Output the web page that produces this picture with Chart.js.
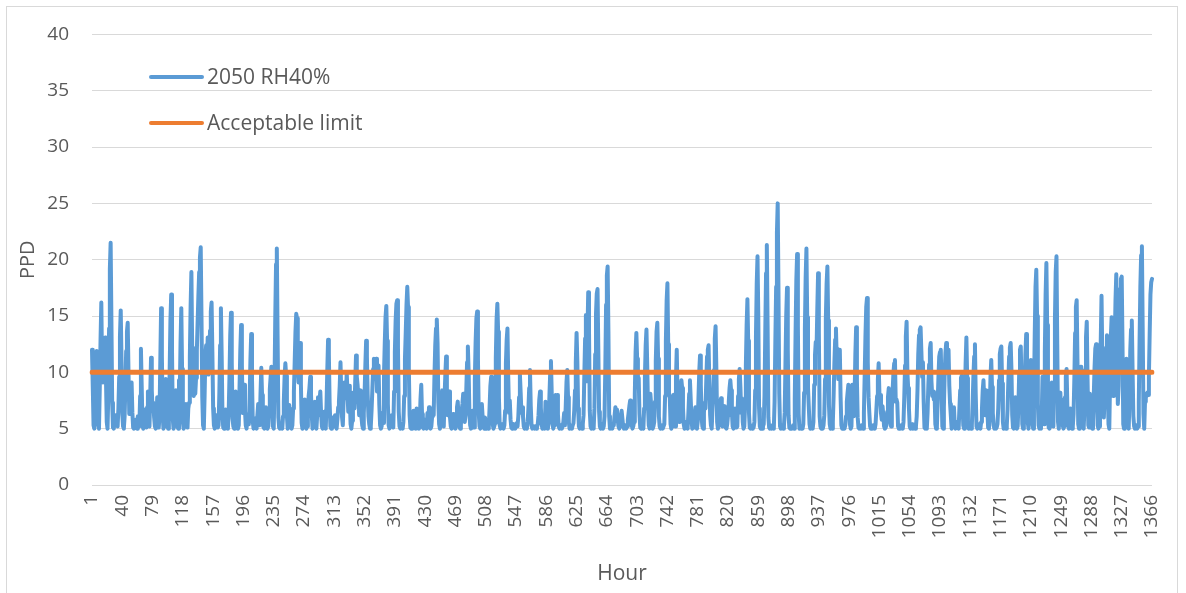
<!DOCTYPE html>
<html>
<head>
<meta charset="utf-8">
<title>PPD 2050 RH40%</title>
<script src="https://cdn.jsdelivr.net/npm/chart.js@4.4.1/dist/chart.umd.min.js"></script>
<style>
  html, body { margin: 0; padding: 0; background: #ffffff; overflow: hidden; }
  #wrap { position: relative; width: 1186px; height: 593px; }
</style>
</head>
<body>
<div id="wrap"><canvas id="chart" width="1186" height="593"></canvas></div>
<script>
// Series names and the comfort limit
const seriesName = '2050 RH40%';
const limitName = 'Acceptable limit';
const acceptableLimit = 10;

// Hour labels shown on the x axis
const tickLabels = [1, 40, 79, 118, 157, 196, 235, 274, 313, 352, 391, 430, 469, 508, 547, 586, 625, 664,
  703, 742, 781, 820, 859, 898, 937, 976, 1015, 1054, 1093, 1132, 1171, 1210, 1249, 1288, 1327, 1366];

// Hourly PPD values (%), hours 1..1366
const ppd = [
  12.0, 8.7, 5.3, 5.0, 6.9, 9.8, 11.9, 8.0, 5.4, 5.0, 8.6, 12.9, 16.2,
  10.4, 9.1, 9.8, 11.8, 13.1, 9.4, 5.6, 5.0, 8.0, 13.9, 19.2, 21.5, 14.6,
  7.3, 5.1, 5.0, 5.6, 6.2, 5.7, 5.3, 5.2, 6.8, 9.6, 13.2, 15.5, 11.1,
  6.3, 5.2, 5.0, 6.1, 8.8, 11.9, 13.6, 14.4, 10.0, 6.3, 7.4, 8.6, 9.1,
  6.4, 5.1, 5.0, 5.3, 5.8, 5.2, 5.0, 6.1, 5.5, 5.2, 7.9, 12.1, 8.8,
  5.4, 5.0, 5.2, 6.7, 5.6, 5.1, 6.9, 8.3, 6.2, 5.2, 8.0, 11.3, 8.4,
  6.6, 7.3, 6.0, 5.2, 5.0, 5.7, 7.8, 6.3, 5.1, 6.4, 11.2, 15.7, 11.4,
  6.2, 5.0, 5.2, 6.6, 9.4, 7.0, 5.3, 5.0, 6.3, 10.1, 14.6, 16.9, 12.1,
  5.9, 5.0, 5.4, 7.7, 8.4, 6.5, 5.2, 5.0, 9.3, 8.1, 12.6, 15.7, 10.3,
  5.6, 5.0, 5.2, 6.1, 7.2, 5.4, 5.1, 6.8, 7.3, 11.4, 15.9, 18.9, 12.2,
  8.6, 7.9, 8.3, 8.1, 9.5, 11.9, 14.4, 16.8, 18.9, 20.2, 21.1, 14.9, 7.8,
  5.3, 5.0, 7.9, 11.5, 12.4, 10.6, 13.1, 9.8, 10.9, 13.7, 15.4, 16.2, 11.8,
  6.8, 5.3, 5.0, 5.4, 6.2, 5.6, 5.1, 5.3, 8.2, 12.4, 15.7, 11.5, 6.2,
  5.1, 5.0, 5.6, 6.7, 5.8, 5.2, 5.0, 6.4, 9.5, 13.3, 15.3, 10.8, 5.9,
  5.2, 5.0, 5.4, 8.3, 7.1, 5.5, 5.0, 5.3, 8.7, 12.0, 14.2, 10.7, 6.4,
  8.4, 8.9, 6.6, 5.3, 5.0, 5.8, 6.3, 5.4, 7.7, 11.1, 13.4, 9.6, 5.7,
  5.0, 5.1, 5.9, 5.3, 5.0, 6.2, 7.2, 5.8, 5.3, 8.1, 10.4, 8.0, 5.4,
  5.1, 5.0, 5.7, 6.9, 5.4, 5.0, 5.2, 6.8, 8.5, 9.6, 10.5, 7.4, 5.2,
  5.0, 8.8, 14.9, 19.6, 21.0, 13.2, 6.0, 5.1, 5.0, 5.4, 5.2, 5.0, 6.1,
  7.4, 9.6, 10.8, 9.7, 6.1, 5.0, 5.2, 7.1, 6.0, 5.2, 5.0, 5.3, 6.8,
  8.3, 10.9, 13.6, 15.2, 14.8, 10.6, 9.1, 10.4, 12.6, 9.0, 5.5, 5.0, 5.4,
  6.8, 7.6, 5.4, 5.0, 5.2, 6.6, 7.9, 8.6, 9.6, 8.1, 6.2, 5.0, 5.3,
  6.0, 7.4, 5.6, 5.0, 6.2, 7.8, 6.9, 7.5, 8.3, 6.4, 5.2, 5.0, 5.6,
  6.5, 5.3, 5.0, 7.1, 10.2, 12.9, 11.6, 7.3, 5.2, 5.0, 5.3, 6.0, 5.5,
  5.2, 6.2, 5.4, 5.0, 5.8, 6.9, 7.4, 8.8, 10.9, 8.1, 6.0, 5.3, 7.6,
  9.1, 8.4, 7.7, 10.0, 8.2, 6.5, 8.8, 7.6, 5.4, 5.0, 5.7, 8.2, 7.3,
  6.8, 9.3, 11.5, 9.6, 8.9, 7.8, 6.2, 7.9, 8.4, 6.0, 5.3, 5.0, 6.4,
  8.1, 10.6, 12.8, 11.4, 8.0, 6.1, 5.4, 5.0, 5.2, 6.6, 8.4, 10.3, 11.2,
  9.4, 10.1, 11.2, 8.3, 9.2, 10.6, 7.1, 5.3, 5.0, 5.2, 6.4, 5.5, 9.8,
  12.6, 14.9, 15.9, 12.8, 7.2, 5.3, 5.0, 5.2, 5.6, 6.2, 5.4, 5.1, 8.3,
  11.8, 14.6, 16.1, 16.4, 12.2, 6.5, 5.2, 5.0, 5.4, 5.1, 5.0, 5.6, 7.9,
  11.2, 13.5, 16.0, 17.6, 15.8, 10.4, 6.2, 5.1, 5.0, 5.3, 5.0, 6.6, 5.7,
  5.2, 5.0, 6.8, 5.9, 5.2, 5.0, 5.4, 7.6, 8.9, 6.3, 5.1, 5.0, 5.3,
  5.8, 5.1, 5.0, 6.4, 5.6, 6.9, 5.3, 5.0, 5.2, 6.1, 6.8, 6.2, 9.7,
  12.4, 13.9, 14.7, 12.6, 7.3, 5.4, 5.0, 5.6, 6.4, 8.4, 6.1, 5.2, 7.8,
  9.8, 11.4, 8.3, 6.2, 7.7, 8.3, 6.0, 5.2, 5.0, 5.5, 6.3, 5.3, 5.1,
  5.0, 5.6, 6.9, 7.4, 6.0, 5.2, 5.0, 5.3, 6.6, 7.2, 8.1, 6.8, 5.6,
  6.2, 8.5, 10.9, 12.3, 10.1, 6.4, 5.3, 5.0, 5.8, 6.6, 5.5, 5.1, 9.4,
  12.7, 14.8, 15.4, 11.2, 6.4, 5.2, 5.0, 5.8, 7.2, 6.1, 5.3, 5.0, 6.0,
  5.6, 5.0, 5.2, 5.0, 5.3, 6.9, 8.8, 9.6, 7.4, 5.4, 5.0, 5.2, 5.5,
  11.3, 14.7, 16.1, 13.6, 7.8, 5.3, 5.0, 5.1, 5.4, 5.2, 5.0, 5.3, 6.6,
  10.8, 12.9, 13.9, 9.6, 6.4, 7.5, 5.8, 5.1, 5.0, 5.2, 5.4, 5.1, 5.0,
  5.3, 5.5, 5.2, 6.1, 7.8, 9.9, 8.2, 6.4, 6.9, 6.1, 5.2, 5.0, 5.1,
  5.4, 5.0, 5.6, 6.8, 8.6, 10.2, 7.0, 5.3, 5.0, 5.2, 5.1, 5.0, 5.2,
  5.0, 5.1, 5.4, 6.2, 7.6, 8.3, 6.9, 5.4, 5.0, 5.1, 5.3, 5.0, 7.4,
  6.0, 5.2, 5.0, 5.6, 7.8, 9.9, 11.0, 8.2, 5.4, 5.0, 5.3, 7.0, 8.0,
  6.8, 8.0, 6.3, 5.2, 5.0, 5.1, 5.3, 5.0, 5.2, 5.6, 6.4, 5.3, 6.9,
  9.1, 10.2, 7.8, 5.6, 5.0, 5.2, 5.1, 5.0, 5.3, 5.5, 6.6, 8.4, 10.9,
  13.5, 11.0, 6.8, 5.2, 5.0, 5.3, 5.1, 5.0, 5.4, 6.2, 9.8, 13.0, 15.1,
  9.2, 13.4, 17.1, 13.8, 6.6, 5.2, 5.0, 5.1, 5.3, 5.0, 6.8, 11.6, 15.2,
  17.0, 17.4, 12.1, 6.5, 5.2, 5.0, 5.1, 5.4, 5.0, 5.2, 6.1, 10.3, 16.0,
  18.6, 19.4, 13.7, 6.1, 5.0, 5.2, 5.1, 5.0, 5.3, 5.4, 6.2, 6.9, 6.0,
  6.7, 5.8, 5.2, 5.0, 5.3, 6.0, 6.6, 5.9, 5.2, 5.0, 5.1, 5.3, 5.0,
  5.2, 5.8, 6.4, 7.0, 7.5, 6.2, 5.3, 5.0, 5.2, 5.6, 8.1, 11.8, 13.5,
  11.2, 8.8, 9.5, 6.3, 5.1, 5.0, 5.2, 5.4, 5.0, 6.8, 9.6, 12.4, 13.8,
  10.6, 6.9, 5.3, 5.0, 8.1, 7.2, 5.4, 5.0, 5.2, 5.6, 7.4, 11.0, 13.6,
  14.4, 11.2, 6.1, 5.2, 5.0, 5.1, 5.3, 5.0, 5.2, 5.4, 7.9, 12.8, 16.4,
  17.9, 12.5, 8.2, 7.9, 5.4, 5.0, 5.2, 7.6, 8.0, 6.3, 5.2, 9.5, 12.0,
  8.0, 7.4, 5.6, 6.8, 8.5, 9.3, 8.6, 6.9, 5.4, 5.0, 5.2, 5.6, 5.1,
  5.0, 6.4, 8.1, 9.3, 7.6, 5.8, 5.0, 5.2, 5.1, 6.2, 6.9, 5.4, 5.0,
  5.6, 7.8, 10.1, 11.5, 8.9, 6.0, 5.2, 5.0, 6.4, 7.3, 6.8, 9.2, 11.4,
  12.0, 12.4, 9.1, 6.2, 5.3, 5.0, 6.7, 7.8, 10.2, 13.0, 14.1, 10.4, 5.6,
  5.0, 5.2, 6.1, 7.3, 7.7, 6.3, 5.2, 6.6, 7.0, 5.9, 5.1, 5.0, 5.4,
  6.2, 7.4, 8.6, 9.3, 8.4, 6.5, 5.2, 5.0, 5.3, 6.8, 5.9, 5.1, 5.2,
  7.9, 9.4, 10.3, 8.7, 6.4, 7.7, 5.6, 5.0, 5.2, 7.1, 10.6, 14.2, 16.5,
  12.8, 6.4, 5.1, 5.0, 5.2, 5.0, 5.3, 5.1, 5.6, 8.4, 13.2, 17.9, 20.3,
  15.1, 6.8, 5.2, 5.0, 5.1, 5.0, 5.2, 5.4, 7.9, 13.6, 18.8, 21.3, 14.2,
  6.0, 5.1, 5.0, 5.2, 5.0, 5.3, 5.1, 5.0, 7.4, 12.9, 17.6, 22.4, 25.0,
  17.2, 8.1, 5.2, 5.0, 5.1, 5.3, 5.0, 5.2, 6.4, 10.8, 15.1, 17.5, 12.0,
  6.2, 5.1, 5.0, 5.2, 5.0, 5.1, 5.3, 5.0, 7.7, 13.4, 18.2, 20.5, 14.1,
  6.3, 5.0, 5.2, 5.0, 5.1, 5.0, 5.4, 8.2, 13.8, 18.4, 21.0, 14.9, 8.7,
  7.0, 5.4, 5.0, 5.2, 5.1, 5.0, 5.6, 8.9, 11.5, 12.7, 11.9, 15.6, 18.8,
  13.5, 6.1, 5.2, 5.0, 5.1, 5.0, 5.3, 6.2, 9.4, 14.8, 17.9, 19.4, 14.6,
  7.1, 5.4, 5.0, 5.2, 5.0, 5.6, 7.9, 10.8, 12.9, 13.9, 11.3, 12.1, 9.4,
  11.8, 12.0, 7.8, 5.3, 5.0, 5.2, 5.1, 5.0, 5.3, 6.1, 7.4, 8.2, 8.9,
  8.6, 5.4, 5.0, 5.2, 8.9, 8.7, 6.1, 7.8, 11.6, 14.0, 9.3, 6.0, 5.1,
  5.0, 5.2, 5.0, 5.3, 5.1, 5.0, 6.4, 9.7, 13.2, 15.8, 16.6, 10.9, 7.8,
  6.4, 5.2, 5.0, 5.1, 5.0, 5.3, 5.2, 5.0, 5.4, 6.6, 7.9, 9.4, 10.8,
  8.1, 8.0, 6.4, 5.8, 7.0, 6.2, 5.2, 5.0, 5.1, 5.3, 6.5, 7.8, 8.6,
  6.9, 5.6, 5.2, 6.8, 8.4, 9.9, 10.8, 11.1, 7.4, 7.6, 7.3, 5.2, 5.0,
  5.1, 5.0, 5.3, 5.2, 5.0, 5.6, 7.8, 10.6, 13.2, 14.5, 10.1, 8.6, 6.8,
  5.2, 5.0, 5.1, 5.4, 5.0, 5.3, 5.1, 5.0, 5.2, 6.1, 8.4, 11.6, 13.3,
  13.8, 14.0, 11.9, 9.6, 10.9, 7.4, 5.1, 5.0, 5.2, 5.0, 6.4, 8.9, 10.7,
  12.1, 12.6, 9.2, 7.9, 8.3, 7.6, 8.2, 5.4, 5.0, 5.2, 7.3, 9.6, 11.4,
  11.8, 12.0, 8.7, 5.2, 5.0, 6.9, 9.8, 11.7, 12.6, 10.4, 9.9, 12.0, 8.8,
  7.2, 6.1, 5.0, 5.2, 6.4, 6.9, 5.3, 5.0, 5.2, 5.6, 5.1, 5.0, 6.8,
  8.4, 9.5, 9.7, 7.1, 5.3, 5.0, 7.4, 10.8, 13.1, 9.5, 5.4, 5.0, 5.2,
  5.1, 5.0, 5.3, 7.2, 9.6, 11.4, 12.5, 8.1, 5.2, 5.0, 5.1, 5.4, 5.2,
  5.0, 5.6, 6.7, 8.4, 9.3, 7.5, 6.2, 7.4, 8.4, 6.6, 5.1, 5.0, 6.2,
  9.6, 11.1, 8.7, 6.4, 5.3, 5.0, 5.2, 5.0, 5.1, 5.4, 6.8, 9.3, 11.6,
  12.1, 12.3, 9.0, 5.6, 5.0, 5.2, 5.1, 5.0, 5.3, 6.7, 9.2, 11.4, 12.2,
  12.6, 10.3, 6.2, 5.1, 5.0, 6.5, 7.8, 5.4, 5.0, 5.2, 7.1, 10.0, 12.0,
  12.3, 9.1, 5.4, 5.0, 5.2, 8.3, 11.6, 13.4, 9.8, 5.6, 5.0, 6.7, 9.4,
  11.1, 8.2, 5.5, 5.0, 7.8, 13.4, 17.6, 19.1, 15.0, 7.2, 5.3, 5.0, 5.2,
  5.0, 6.1, 9.6, 6.8, 5.4, 11.8, 16.9, 19.7, 14.2, 6.6, 5.1, 5.0, 5.3,
  6.2, 9.1, 6.0, 5.2, 8.8, 14.7, 18.9, 20.3, 12.5, 5.6, 5.0, 7.4, 8.2,
  6.1, 7.6, 5.3, 5.0, 5.2, 7.8, 9.6, 10.3, 7.0, 5.2, 5.0, 5.4, 6.8,
  5.1, 5.0, 5.2, 6.3, 9.4, 13.5, 15.8, 16.4, 11.2, 5.4, 5.0, 7.6, 10.5,
  10.5, 7.1, 5.2, 5.0, 6.8, 10.2, 13.1, 14.5, 9.4, 5.3, 5.1, 8.1, 6.4,
  5.2, 5.0, 5.6, 7.9, 10.4, 12.1, 12.5, 8.0, 5.3, 5.0, 5.2, 7.5, 12.8,
  16.8, 11.4, 8.2, 6.0, 7.9, 9.8, 12.2, 13.3, 8.6, 5.4, 5.0, 9.2, 13.1,
  14.9, 10.4, 7.9, 8.3, 12.6, 16.4, 18.7, 13.5, 7.2, 8.8, 14.1, 17.4, 18.3,
  18.5, 12.6, 5.4, 5.0, 6.3, 9.4, 11.2, 8.0, 5.3, 5.0, 7.6, 11.9, 13.8,
  14.6, 10.2, 6.1, 5.2, 5.0, 5.1, 5.3, 5.0, 5.2, 7.4, 12.8, 17.6, 20.4,
  21.2, 14.0, 6.3, 5.0, 7.4, 8.1, 7.9, 8.2, 8.0, 9.6, 13.4, 16.9, 18.0,
  18.3
];

// Hour index for every reading
const hours = ppd.map((_, i) => i + 1);
const limitLine = ppd.map(() => acceptableLimit);

const FONT = "'Open Sans', 'DejaVu Sans', sans-serif";
const TEXT = '#595959';
const GRID = '#d9d9d9';

// White background and thin outer frame
const frame = {
  id: 'frame',
  beforeDraw(chart) {
    const ctx = chart.ctx;
    ctx.save();
    ctx.fillStyle = '#ffffff';
    ctx.fillRect(0, 0, chart.width, chart.height);
    ctx.strokeStyle = GRID;
    ctx.lineWidth = 1;
    ctx.strokeRect(6.5, 6.5, 1171, 640);
    ctx.restore();
  }
};

// Legend drawn inside the plot area, one entry per row
const insideLegend = {
  id: 'insideLegend',
  afterDatasetsDraw(chart) {
    const ctx = chart.ctx;
    const rows = [0, 1];
    const rowY = [77, 123];
    ctx.save();
    ctx.font = "21px " + FONT;
    ctx.textBaseline = 'middle';
    ctx.textAlign = 'left';
    rows.forEach((di, k) => {
      const ds = chart.data.datasets[di];
      const y = rowY[k];
      ctx.strokeStyle = ds.borderColor;
      ctx.lineWidth = 4;
      ctx.lineCap = 'round';
      ctx.beginPath();
      ctx.moveTo(151, y);
      ctx.lineTo(202, y);
      ctx.stroke();
      ctx.fillStyle = TEXT;
      ctx.fillText(ds.label, 207, y + 1);
    });
    ctx.restore();
  }
};

new Chart(document.getElementById('chart'), {
  type: 'line',
  data: {
    labels: hours,
    datasets: [
      {
        label: seriesName,
        data: ppd,
        borderColor: '#5B9BD5',
        backgroundColor: '#5B9BD5',
        borderWidth: 4,
        borderJoinStyle: 'round',
        borderCapStyle: 'round',
        pointRadius: 0,
        fill: false,
        order: 2
      },
      {
        label: limitName,
        data: limitLine,
        borderColor: '#ED7D31',
        backgroundColor: '#ED7D31',
        borderWidth: 5,
        borderCapStyle: 'round',
        pointRadius: 0,
        fill: false,
        order: 1
      }
    ]
  },
  options: {
    responsive: false,
    animation: false,
    devicePixelRatio: 1,
    layout: { padding: { left: 10, right: 34, top: 34, bottom: 6 } },
    plugins: {
      legend: { display: false },
      tooltip: { enabled: false }
    },
    elements: { line: { tension: 0 } },
    scales: {
      x: {
        type: 'category',
        offset: false,
        grid: { display: false, drawTicks: false },
        border: { display: false },
        ticks: {
          autoSkip: false,
          minRotation: 90,
          maxRotation: 90,
          padding: 10,
          color: TEXT,
          font: { family: FONT, size: 19 }
        },
        afterBuildTicks(scale) {
          scale.ticks = tickLabels.map(h => ({ value: hours.indexOf(h) }));
        },
        afterFit(scale) { scale.height = 102; },
        title: {
          display: true,
          text: 'Hour',
          color: TEXT,
          font: { family: FONT, size: 21 },
          padding: { top: 0, bottom: 0 }
        }
      },
      y: {
        min: 0,
        max: 40,
        ticks: {
          stepSize: 5,
          padding: 23,
          color: TEXT,
          font: { family: FONT, size: 19 }
        },
        grid: { color: GRID, lineWidth: 1, drawTicks: false },
        border: { display: false },
        afterFit(scale) { scale.width = 82; },
        title: {
          display: true,
          text: 'PPD',
          color: TEXT,
          font: { family: FONT, size: 20 },
          padding: { top: 6, bottom: 0 }
        }
      }
    }
  },
  plugins: [frame, insideLegend]
});
</script>
</body>
</html>
